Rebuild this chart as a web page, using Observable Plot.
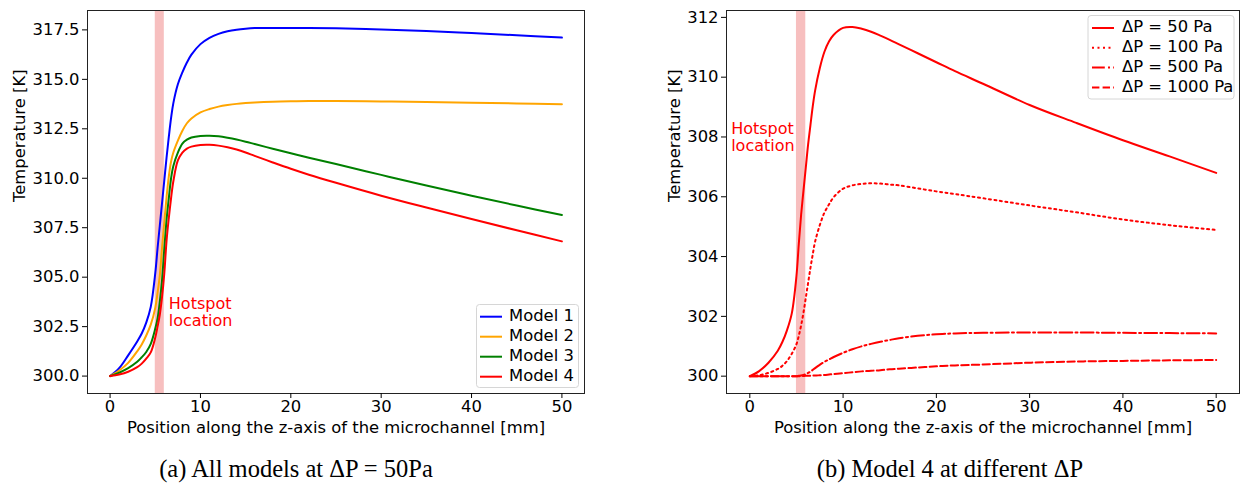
<!DOCTYPE html>
<html><head><meta charset="utf-8">
<script src="https://cdn.jsdelivr.net/npm/d3@7"></script>
<script src="https://cdn.jsdelivr.net/npm/@observablehq/plot@0.6"></script>
<style>
body{margin:0;background:#fff;}
#wrap{position:relative;width:1240px;height:483px;overflow:hidden;font-family:"DejaVu Sans";background:#fff;}
#left,#right{position:absolute;top:0;}
#left{left:0}
#right{left:620px}
#overlay{position:absolute;left:0;top:0;pointer-events:none}
</style></head><body>
<div id="wrap"><div id="left"></div><div id="right"></div><svg id="overlay" width="1240" height="483"></svg></div>
<script>
// ---------- data ----------
const zGrid = [0, 1, 2, 3, 3.5, 4, 4.5, 5, 5.25, 5.5, 5.75, 6, 6.25, 6.5, 6.75, 7, 7.5, 8, 8.5, 9, 10, 11, 12, 13, 14, 15, 16, 18, 20, 22, 25, 30, 35, 40, 45, 50];

const model1 = [300, 300.4, 301.05, 301.75, 302.15, 302.7, 303.5, 305.2, 306.45, 307.6, 308.75, 309.9, 311.05, 312.1, 313.05, 313.8, 314.75, 315.35, 315.85, 316.25, 316.78, 317.1, 317.3, 317.43, 317.51, 317.56, 317.59, 317.6, 317.6, 317.6, 317.58, 317.52, 317.44, 317.34, 317.23, 317.11];
const model2 = [300, 300.28, 300.67, 301.25, 301.6, 302.05, 302.6, 303.45, 304.2, 305.08, 306.5, 307.8, 309.05, 310.1, 310.85, 311.3, 311.9, 312.4, 312.78, 313.02, 313.33, 313.5, 313.62, 313.7, 313.76, 313.8, 313.83, 313.87, 313.89, 313.9, 313.9, 313.88, 313.85, 313.82, 313.78, 313.74];
const model3 = [300, 300.17, 300.4, 300.72, 300.95, 301.22, 301.63, 302.4, 302.9, 303.75, 304.85, 306.45, 307.9, 309.0, 310.0, 310.62, 311.3, 311.75, 311.95, 312.06, 312.14, 312.15, 312.12, 312.05, 311.96, 311.85, 311.73, 311.49, 311.26, 311.04, 310.72, 310.17, 309.63, 309.12, 308.62, 308.14];
const model4 = [300, 300.08, 300.22, 300.45, 300.63, 300.88, 301.2, 301.95, 302.5, 303.1, 304.0, 305.2, 306.85, 308.0, 309.0, 309.85, 310.9, 311.3, 311.5, 311.6, 311.68, 311.69, 311.65, 311.57, 311.45, 311.3, 311.13, 310.8, 310.48, 310.18, 309.77, 309.12, 308.52, 307.94, 307.37, 306.81];

const dp50 = [300, 300.17, 300.45, 300.85, 301.15, 301.55, 302.1, 303.35, 304.42, 305.4, 306.2, 306.97, 307.75, 308.4, 309.03, 309.55, 310.3, 310.85, 311.2, 311.42, 311.65, 311.68, 311.62, 311.52, 311.39, 311.25, 311.1, 310.8, 310.5, 310.2, 309.78, 309.07, 308.47, 307.89, 307.35, 306.8];
const dp100 = [300, 300.03, 300.11, 300.24, 300.35, 300.51, 300.75, 301.07, 301.35, 301.7, 302.12, 302.62, 303.12, 303.62, 304.08, 304.5, 305.05, 305.47, 305.75, 305.99, 306.27, 306.38, 306.43, 306.45, 306.44, 306.41, 306.38, 306.28, 306.18, 306.09, 305.95, 305.71, 305.48, 305.24, 305.05, 304.89];
const dp500 = [300, 300, 300, 300, 300, 300, 300, 300, 300.01, 300.02, 300.04, 300.07, 300.11, 300.15, 300.21, 300.27, 300.38, 300.48, 300.56, 300.64, 300.78, 300.9, 301.0, 301.08, 301.15, 301.21, 301.27, 301.35, 301.4, 301.43, 301.45, 301.46, 301.46, 301.45, 301.44, 301.43];
const dp1000 = [300, 300, 300, 300, 300, 300, 300, 300, 300, 300, 300.005, 300.01, 300.01, 300.015, 300.02, 300.02, 300.03, 300.04, 300.055, 300.07, 300.1, 300.13, 300.16, 300.18, 300.2, 300.23, 300.25, 300.29, 300.33, 300.36, 300.39, 300.45, 300.49, 300.51, 300.53, 300.54];

const xTicks = [0, 10, 20, 30, 40, 50];
const yTicksLeft = [300, 302.5, 305, 307.5, 310, 312.5, 315, 317.5];
const yTicksRight = [300, 302, 304, 306, 308, 310, 312];
const hotspotBand = [5, 6];
const hotspotText = "Hotspot\nlocation";
const hotspotLeftAt = [6.5, 303.97];
const hotspotRightAt = [-2, 308.49];

const leftNames = ["Model 1", "Model 2", "Model 3", "Model 4"];
const leftColors = ["#0000ff", "#ffa500", "#008000", "#ff0000"];
const leftValues = [model1, model2, model3, model4];

const rightNames = ["ΔP = 50 Pa", "ΔP = 100 Pa", "ΔP = 500 Pa", "ΔP = 1000 Pa"];
const rightDashes = [null, "2,3.5", "12.8,3.2,2,3.2", "7.4,3.2"];
const rightValues = [dp50, dp100, dp500, dp1000];

const xLabel = "Position along the z-axis of the microchannel [mm]";
const yLabel = "Temperature [K]";
const captions = ["(a) All models at ΔP = 50Pa", "(b) Model 4 at different ΔP"];

// ---------- drawing ----------
const FS = 16.4;
function panel(o) {
  const lines = o.values.map((vals, k) =>
    Plot.line(zGrid.map((x, i) => ({x, y: vals[i]})), {
      x: "x", y: "y", stroke: o.colors[k], strokeWidth: 2,
      strokeDasharray: o.dashes ? o.dashes[k] : null, curve: "catmull-rom"
    }));
  return Plot.plot({
    width: o.width, height: 440,
    marginLeft: o.mL, marginRight: o.mR, marginTop: 10, marginBottom: 47,
    style: {fontFamily: "DejaVu Sans", fontSize: FS + "px", color: "#000", background: "transparent", overflow: "visible"},
    x: {domain: [-2.5, 52.5]},
    y: {domain: o.yDomain},
    marks: [
      Plot.rect([hotspotBand], {x1: d => d[0], x2: d => d[1], fill: "#f08080", fillOpacity: 0.5}),
      ...lines,
      Plot.text([{x: o.hot[0], y: o.hot[1], t: hotspotText}], {x: "x", y: "y", text: "t", fill: "#ff0000",
        fontSize: 16, textAnchor: "start", lineAnchor: "top", lineHeight: 1.05}),
      Plot.frame({stroke: "#222", strokeWidth: 1}),
      Plot.axisX({ticks: xTicks, tickSize: 5, tickPadding: 2, label: null, tickFormat: d3.format("d")}),
      Plot.axisY({ticks: o.yTicks, tickSize: 5, tickPadding: 3, label: null, tickFormat: d3.format(o.yFormat)}),
      Plot.text([xLabel], {frameAnchor: "bottom", dy: 34, lineAnchor: "middle", text: d => d, fontSize: FS}),
      Plot.text([yLabel], {frameAnchor: "left", rotate: -90, dx: o.yLabelDx, lineAnchor: "middle", text: d => d, fontSize: FS})
    ]
  });
}

document.getElementById("left").append(panel({
  values: leftValues, colors: leftColors, dashes: null,
  width: 620, mL: 87, mR: 36, yDomain: [299.12, 318.48], yTicks: yTicksLeft, yFormat: ".1f",
  hot: hotspotLeftAt, yLabelDx: -68
}));
document.getElementById("right").append(panel({
  values: rightValues, colors: rightValues.map(() => "#ff0000"), dashes: rightDashes,
  width: 620, mL: 106, mR: 1, yDomain: [299.42, 312.23], yTicks: yTicksRight, yFormat: "d",
  hot: hotspotRightAt, yLabelDx: -52
}));

// legends and captions
const ov = d3.select("#overlay");
function legend(box, names, colors, dashes, lineY0, textY0, step, sx0, sx1, tx) {
  ov.append("rect").attr("x", box[0]).attr("y", box[1]).attr("width", box[2]).attr("height", box[3])
    .attr("rx", 3).attr("fill", "rgba(255,255,255,0.8)").attr("stroke", "#d6d6d6");
  names.forEach((n, i) => {
    ov.append("line").attr("x1", sx0).attr("x2", sx1).attr("y1", lineY0 + i * step).attr("y2", lineY0 + i * step)
      .attr("stroke", colors[i]).attr("stroke-width", 2).attr("stroke-dasharray", dashes ? dashes[i] : null);
    ov.append("text").attr("x", tx).attr("y", textY0 + i * step).attr("font-family", "DejaVu Sans")
      .attr("font-size", FS).attr("fill", "#000").text(n);
  });
}
legend([476.5, 304.5, 102, 83], leftNames, leftColors, null, 316.7, 321, 20, 480, 502, 509);
legend([1088, 15.5, 146, 83.5], rightNames, rightValues.map(() => "#ff0000"), rightDashes, 28, 32.3, 19.8, 1092, 1114, 1122);

[[296, captions[0]], [950, captions[1]]].forEach(([cx, t]) => {
  ov.append("text").attr("x", cx).attr("y", 477).attr("text-anchor", "middle")
    .attr("font-family", "Liberation Serif").attr("font-size", 24.5).attr("fill", "#000").text(t);
});
</script>
</body></html>
